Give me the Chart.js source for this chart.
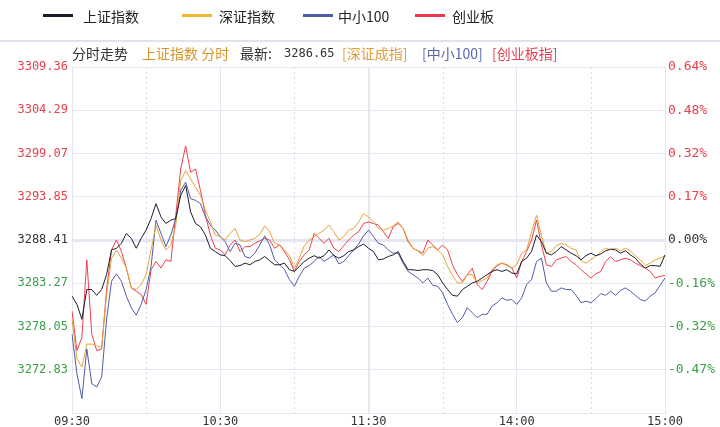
<!DOCTYPE html>
<html>
<head>
<meta charset="utf-8">
<script src="https://cdn.jsdelivr.net/npm/chart.js@4.4.0/dist/chart.umd.min.js"></script>
<style>
html, body { margin: 0; padding: 0; background: #fff; }
#wrap { position: relative; width: 720px; height: 427px; overflow: hidden; font-family: "Noto Sans CJK SC", sans-serif; }
#chart { position: absolute; left: 0; top: 0; }
.t { position: absolute; white-space: nowrap; }
.lg { top: 6px; font-size: 14px; line-height: 20px; color: #222; }
.sw { position: absolute; top: 14px; width: 30px; height: 3px; }
#sep { position: absolute; left: 0; top: 40px; width: 720px; height: 2px; background: #e2e2ee; }
.hd { top: 44px; font-size: 14px; line-height: 18px; }
</style>
</head>
<body>
<div id="wrap">
  <canvas id="chart" width="720" height="427"></canvas>

  <div class="sw" style="left:43px;background:#1c1c2c"></div><div class="t lg" style="left:83px">上证指数</div>
  <div class="sw" style="left:182px;background:#f2b632"></div><div class="t lg" style="left:219px">深证指数</div>
  <div class="sw" style="left:303px;background:#4f5ca6"></div><div class="t lg" style="left:338px">中小100</div>
  <div class="sw" style="left:415px;background:#f0364a"></div><div class="t lg" style="left:452px">创业板</div>
  <div id="sep"></div>

  <div class="t hd" style="left:72px;color:#333">分时走势</div>
  <div class="t hd" style="left:142px;color:#d4962a">上证指数 分时</div>
  <div class="t hd" style="left:240px;color:#333">最新:</div>
  <div class="t hd" style="left:284px;color:#333;font-family:'DejaVu Sans Mono',monospace;font-size:12px">3286.65</div>
  <div class="t hd" style="left:342px;color:#e0a040">[深证成指]</div>
  <div class="t hd" style="left:422px;color:#5a68a8">[中小100]</div>
  <div class="t hd" style="left:492px;color:#e84050">[创业板指]</div>
</div>

<script>
// 昨收 (上证), all series are shown as point change on the 上证 scale
const prevClose = 3288.41;
const gridStep = 5.2375;

const leftLabels = ['3309.36', '3304.29', '3299.07', '3293.85', '3288.41', '3283.27', '3278.05', '3272.83', ''];
const rightLabels = ['0.64%', '0.48%', '0.32%', '0.17%', '0.00%', '-0.16%', '-0.32%', '-0.47%', ''];
const axisTimes = ['09:30', '10:30', '11:30', '14:00', '15:00'];

// one point every 2 minutes, 09:30-11:30 then 13:02-15:00
const shChange = [
  -6.8, -7.8, -9.6, -6.0, -6.0, -6.7, -6.0, -4.2, -1.2, -1.0, -0.4, 0.8, 0.2, -1.0, 0.2, 1.2, 2.6, 4.4, 2.8, 2.0,
  2.4, 2.6, 5.4, 6.6, 3.4, 2.0, 1.6, 0.6, -1.0, -1.4, -1.8,
  -1.9, -2.5, -3.2, -3.1, -2.8, -3.0, -2.6, -2.4, -2.0, -2.5, -3.0, -3.0, -2.8, -3.6, -3.8, -3.2, -2.6, -2.2, -1.9, -2.2,
  -1.9, -1.2, -1.9, -2.2, -1.9, -1.4, -1.2, -0.8, -0.5, -1.0,
  -1.4, -2.4, -2.3, -2.0, -1.8, -1.4, -2.6, -3.6, -3.6, -3.7, -3.6, -3.6, -3.7, -4.2, -5.2, -6.0, -6.7, -6.8, -6.0, -5.6,
  -5.2, -5.0, -4.6, -4.2, -3.8, -3.6, -3.8, -3.6, -4.0, -4.1,
  -2.6, -2.2, -1.4, 0.6, -0.2, -1.6, -1.8, -1.4, -0.8, -1.2, -1.6, -1.9, -2.4, -1.9, -1.6, -1.9, -1.7, -1.3, -1.1, -1.2,
  -1.6, -1.3, -1.8, -2.2, -2.9, -3.4, -3.1, -3.1, -3.2, -1.8
];
const szChange = [
  -9.6, -14.4, -15.4, -12.6, -12.6, -12.8, -13.0, -6.6, -2.2, -1.2, -2.2, -3.4, -5.8, -6.0, -5.4, -4.2, -1.2, 1.8, 0.0, -1.2,
  -0.6, 1.8, 7.2, 8.4, 7.4, 6.4, 5.4, 3.6, 2.2, 0.6, 0.4,
  0.0, 0.8, 1.4, 0.0, -0.2, 0.0, 0.2, 0.7, 1.7, 1.0, -0.4, -0.6, -1.2, -1.9, -3.4, -2.2, -0.7, 0.0, 0.4, 0.8,
  1.2, 1.8, 1.0, 0.0, 0.4, 1.2, 1.4, 2.2, 3.2, 2.8,
  2.2, 1.4, 1.2, 1.4, 1.7, 2.2, 1.4, 0.0, -1.0, -1.3, -1.9, -1.0, -0.8, -1.2, -1.8, -3.2, -4.3, -5.2, -5.2, -4.2,
  -4.2, -5.2, -4.9, -4.6, -3.6, -3.0, -2.8, -3.1, -3.4, -3.0,
  -1.6, -1.2, 1.0, 3.0, 0.5, -1.6, -1.4, -0.7, -0.4, -0.6, -1.0, -1.2, -2.5, -2.8, -2.4, -2.0, -1.4, -1.0, -1.2, -1.0,
  -1.3, -1.0, -1.3, -1.9, -2.4, -3.1, -2.8, -2.4, -2.2, -1.9
];
const zxChange = [
  -11.4, -16.2, -19.2, -13.2, -17.4, -17.8, -16.6, -9.6, -5.0, -4.1, -5.0, -6.8, -8.2, -9.1, -7.8, -6.0, -3.2, 2.4, 0.8, -0.8,
  0.6, 2.6, 6.0, 7.0, 5.0, 4.8, 4.4, 2.8, 1.8, 1.2, 0.4,
  -0.2, -1.4, -0.4, -0.6, -2.0, -2.2, -1.6, -0.6, 0.5, -0.6, -2.4, -3.0, -3.6, -4.8, -5.6, -4.4, -3.4, -3.1, -2.6, -2.0,
  -2.6, -2.2, -1.8, -2.9, -2.6, -1.9, -1.2, -0.5, 0.5, 1.2,
  0.4, -0.4, -0.6, -1.2, -1.6, -1.6, -2.8, -3.8, -4.2, -4.6, -5.2, -4.6, -5.5, -5.6, -6.4, -7.8, -9.0, -10.0, -9.4, -8.2,
  -8.8, -9.4, -9.0, -9.0, -8.0, -7.6, -7.0, -7.3, -7.2, -7.8,
  -7.0, -5.4, -4.8, -2.6, -2.2, -5.2, -6.2, -6.2, -5.8, -6.0, -6.0, -6.7, -7.6, -7.4, -7.6, -7.1, -6.5, -6.7, -6.2, -6.7,
  -6.1, -5.8, -6.2, -6.7, -7.2, -7.4, -6.8, -6.4, -5.5, -4.6
];
const cybChange = [
  -8.6, -13.4, -11.8, -2.4, -11.4, -13.4, -13.2, -6.0, -1.2, 0.0, -1.4, -3.4, -5.8, -6.2, -6.6, -7.8, -3.6, -2.6, -3.4, -2.4,
  -2.6, 3.0, 8.6, 11.4, 8.2, 8.6, 6.0, 3.0, 0.6, -1.0, -1.2,
  -1.8, -0.6, 0.0, -1.4, -0.8, -0.8, -0.4, -0.1, 0.2, 0.0, -1.0, -0.6, -1.4, -2.4, -3.8, -2.6, -1.8, -1.2, 0.8, 0.2,
  -0.4, 0.2, -1.0, -1.4, -0.7, 0.0, 0.6, 1.0, 2.0, 2.2,
  2.0, 1.8, 1.0, 0.2, 1.6, 2.0, 1.4, -0.2, -1.0, -1.3, -1.6, 0.0, -0.6, -1.2, -0.6, -1.2, -3.0, -4.2, -5.0, -4.2,
  -3.4, -5.4, -6.0, -5.0, -3.8, -3.1, -2.8, -3.0, -3.4, -4.6,
  -2.6, -1.4, 0.0, 2.4, -0.6, -3.0, -3.2, -2.4, -2.2, -2.0, -2.6, -3.0, -3.6, -4.1, -4.6, -4.1, -3.8, -2.6, -2.0, -2.6,
  -2.4, -2.2, -2.4, -2.8, -3.1, -3.4, -3.8, -4.6, -4.4, -4.3
];

function buildTimes() {
  const out = [];
  for (let i = 0; i <= 120; i++) {
    const m = i <= 60 ? 570 + 2 * i : 780 + 2 * (i - 60);
    const hh = String(Math.floor(m / 60)).padStart(2, '0');
    const mm = String(m % 60).padStart(2, '0');
    out.push(hh + ':' + mm);
  }
  return out;
}
const times = buildTimes();

const gridColor = '#e6e6f2';
const upColor = '#e8404c';
const downColor = '#3aa04a';
const flatColor = '#333333';

function toPrice(arr) {
  return arr.map(v => +(prevClose + v).toFixed(2));
}

function fixedTicks(scale) {
  const t = [];
  for (let k = -4; k <= 4; k++) t.push({ value: prevClose + k * gridStep });
  scale.ticks = t;
}

function tickColor(ctx) {
  if (ctx.index > 4) return upColor;
  if (ctx.index === 4) return flatColor;
  return downColor;
}

const halfHourLines = {
  id: 'halfHourLines',
  beforeDatasetsDraw(chart) {
    const { ctx, chartArea, scales } = chart;
    ctx.save();
    ctx.strokeStyle = '#d8d8e6';
    ctx.lineWidth = 1;
    ctx.setLineDash([2, 3]);
    [15, 45, 75, 105].forEach(i => {
      const x = Math.round(scales.x.getPixelForValue(i)) + 0.5;
      ctx.beginPath();
      ctx.moveTo(x, chartArea.top);
      ctx.lineTo(x, chartArea.bottom);
      ctx.stroke();
    });
    ctx.restore();
  }
};

const lineSet = (label, arr, color) => ({
  label: label,
  data: toPrice(arr),
  borderColor: color,
  borderWidth: 1,
  pointRadius: 0,
  tension: 0,
  fill: false,
  yAxisID: 'y'
});

new Chart(document.getElementById('chart').getContext('2d'), {
  type: 'line',
  data: {
    labels: times,
    datasets: [
      lineSet('上证指数', shChange, '#1c1c2c'),
      lineSet('深证指数', szChange, '#e3a43a'),
      lineSet('中小100', zxChange, '#4f5ca6'),
      lineSet('创业板', cybChange, '#f0404c')
    ]
  },
  plugins: [halfHourLines],
  options: {
    responsive: false,
    animation: false,
    layout: { padding: { top: 67, left: 0, right: 0, bottom: 0 } },
    plugins: {
      legend: { display: false },
      tooltip: { enabled: false }
    },
    scales: {
      x: {
        type: 'category',
        afterFit: s => { s.height = 14; },
        border: { color: gridColor },
        grid: {
          drawTicks: false,
          color: ctx => (ctx.index % 30 === 0 ? gridColor : 'rgba(0,0,0,0)'),
          lineWidth: ctx => (ctx.index === 60 ? 2 : 1)
        },
        ticks: {
          autoSkip: false,
          maxRotation: 0,
          padding: 2,
          color: '#333',
          font: { family: 'DejaVu Sans Mono', size: 12 },
          callback: (val, idx) => (axisTimes.includes(times[idx]) ? times[idx] : '')
        }
      },
      y: {
        position: 'left',
        min: prevClose - 4 * gridStep,
        max: prevClose + 4 * gridStep,
        afterBuildTicks: fixedTicks,
        afterFit: s => { s.width = 72; },
        border: { color: gridColor },
        grid: {
          drawTicks: false,
          color: gridColor,
          lineWidth: ctx => (ctx.index === 4 ? 3 : 1)
        },
        ticks: {
          padding: 4,
          color: tickColor,
          font: { family: 'DejaVu Sans Mono', size: 12 },
          callback: (val, idx) => leftLabels[8 - idx]
        }
      },
      y2: {
        position: 'right',
        min: prevClose - 4 * gridStep,
        max: prevClose + 4 * gridStep,
        afterBuildTicks: fixedTicks,
        afterFit: s => { s.width = 55; },
        border: { color: gridColor },
        grid: { drawOnChartArea: false, drawTicks: false },
        ticks: {
          padding: 3,
          color: tickColor,
          font: { family: 'DejaVu Sans Mono', size: 13 },
          callback: (val, idx) => rightLabels[8 - idx]
        }
      }
    }
  }
});
</script>
</body>
</html>
